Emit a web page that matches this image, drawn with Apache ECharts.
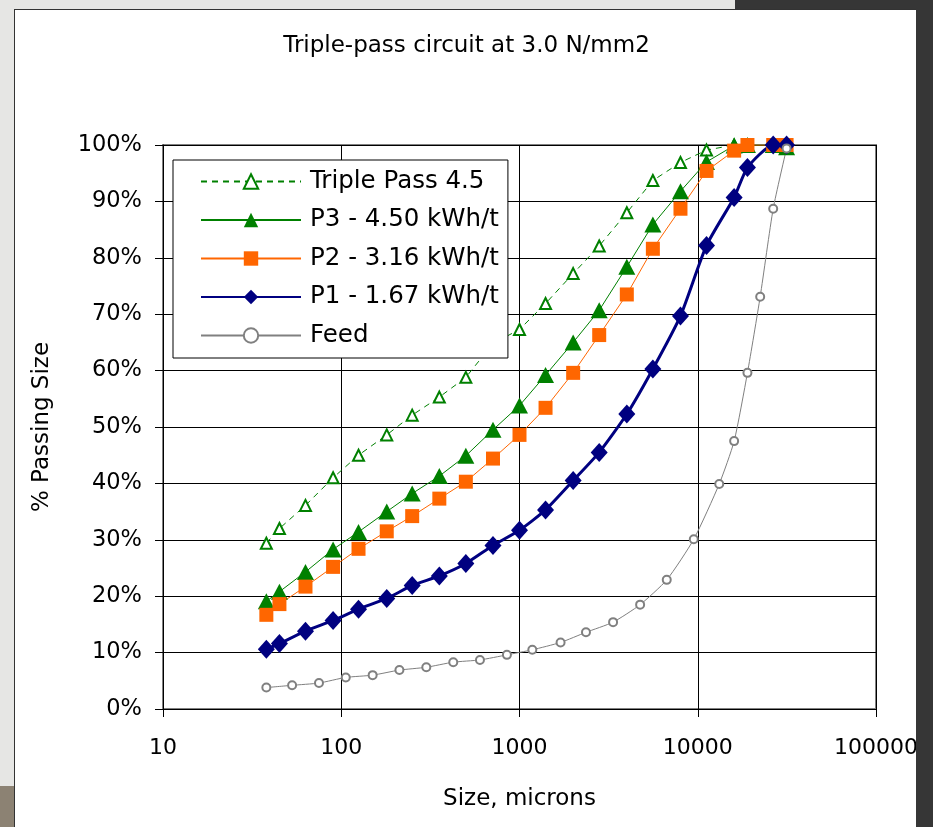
<!DOCTYPE html>
<html><head><meta charset="utf-8">
<script src="https://cdn.jsdelivr.net/npm/echarts@6/dist/echarts.min.js"></script>
<style>html,body{margin:0;padding:0;background:#ffffff;} #c{width:933px;height:827px;}</style>
</head><body><div id="c"></div>
<script>
// ---------- data ----------
const titleText = 'Triple-pass circuit at 3.0 N/mm2';
const xAxisTitle = 'Size, microns';
const yAxisTitle = '% Passing Size';
const seriesNames = ['Triple Pass 4.5', 'P3 - 4.50 kWh/t', 'P2 - 3.16 kWh/t', 'P1 - 1.67 kWh/t', 'Feed'];

const productSizes = [38, 45, 63, 90, 125, 180, 250, 355, 500, 710, 1000, 1400, 2000, 2800, 4000, 5600, 8000, 11200, 16000, 19000, 26500, 31500];
const tripleSizes = [38, 45, 63, 90, 125, 180, 250, 355, 500, 710, 1000, 1400, 2000, 2800, 4000, 5600, 8000, 11200, 16000];
const feedSizes = [38, 53, 75, 106, 150, 212, 300, 425, 600, 850, 1180, 1700, 2360, 3350, 4750, 6700, 9500, 13200, 16000, 19000, 22400, 26500, 31500];

const triplePass = [29.4, 32.0, 36.1, 41.0, 45.0, 48.6, 52.1, 55.3, 58.8, 64.8, 67.3, 71.9, 77.2, 82.1, 88.0, 93.7, 96.9, 99.1, 100];
const p3 = [19.1, 20.8, 24.3, 28.3, 31.4, 35.0, 38.2, 41.3, 44.9, 49.5, 53.8, 59.2, 65.0, 70.7, 78.4, 85.9, 91.8, 97.0, 99.9, 100, 100, 99.6];
const p2 = [16.7, 18.6, 21.7, 25.2, 28.4, 31.5, 34.2, 37.3, 40.3, 44.4, 48.6, 53.4, 59.6, 66.3, 73.5, 81.6, 88.7, 95.4, 99.0, 100, 100, 100];
const p1 = [10.6, 11.6, 13.8, 15.7, 17.7, 19.6, 21.9, 23.6, 25.8, 29.0, 31.7, 35.3, 40.5, 45.5, 52.3, 60.3, 69.7, 82.2, 90.7, 96.0, 100, 100];
const feed = [3.8, 4.2, 4.6, 5.6, 6.0, 6.9, 7.4, 8.3, 8.7, 9.6, 10.5, 11.8, 13.6, 15.4, 18.5, 22.9, 30.1, 39.9, 47.5, 59.6, 73.1, 88.7, 99.4];

const xTicks = [10, 100, 1000, 10000, 100000];
const yTicks = [0, 10, 20, 30, 40, 50, 60, 70, 80, 90, 100];

// ---------- chart ----------
const pairs = (xs, ys) => xs.map((x, i) => [x, ys[i]]);
const FONT = 'DejaVu Sans';
const chart = echarts.init(document.getElementById('c'), null, { renderer: 'canvas' });

chart.setOption({
  backgroundColor: '#ffffff',
  animation: false,
  textStyle: { fontFamily: FONT, color: '#000' },
  graphic: [
    { type: 'rect', z: 100, silent: true, shape: { x: 0, y: 0, width: 735, height: 9 }, style: { fill: '#e6e6e4' } },
    { type: 'rect', z: 100, silent: true, shape: { x: 735, y: 0, width: 198, height: 9 }, style: { fill: '#363636' } },
    { type: 'rect', z: 100, silent: true, shape: { x: 916, y: 0, width: 17, height: 827 }, style: { fill: '#363636' } },
    { type: 'rect', z: 100, silent: true, shape: { x: 0, y: 0, width: 14, height: 786 }, style: { fill: '#e6e6e4' } },
    { type: 'rect', z: 100, silent: true, shape: { x: 0, y: 786, width: 14, height: 41 }, style: { fill: '#8c8273' } },
    { type: 'line', z: 100, silent: true, shape: { x1: 14, y1: 9.5, x2: 916, y2: 9.5 }, style: { stroke: '#333', lineWidth: 1 } },
    { type: 'line', z: 100, silent: true, shape: { x1: 14.5, y1: 9, x2: 14.5, y2: 827 }, style: { stroke: '#333', lineWidth: 1 } }
  ],
  title: {
    text: titleText,
    left: 'center',
    top: 35,
    padding: 0,
    textStyle: { fontFamily: FONT, fontSize: 23, fontWeight: 'normal', color: '#000' }
  },
  legend: {
    orient: 'vertical',
    left: 173,
    top: 160,
    align: 'left',
    itemWidth: 100,
    itemHeight: 18,
    itemGap: 13.5,
    padding: [9, 9, 10, 27],
    backgroundColor: '#ffffff',
    borderColor: '#000',
    borderWidth: 1,
    borderRadius: 0,
    textStyle: { fontFamily: FONT, fontSize: 24.5, color: '#000', padding: [0, 0, 0, 4] },
    data: seriesNames
  },
  grid: {
    left: 163, right: 57, top: 145, bottom: 118,
    show: true,
    borderColor: '#808080',
    borderWidth: 2,
    backgroundColor: 'transparent',
    outerBoundsMode: 'none'
  },
  xAxis: {
    type: 'log',
    logBase: 10,
    min: xTicks[0],
    max: xTicks[xTicks.length - 1],
    name: xAxisTitle,
    nameLocation: 'middle',
    nameGap: 79,
    nameTextStyle: { fontFamily: FONT, fontSize: 23, color: '#000' },
    axisLine: { show: true, lineStyle: { color: '#000', width: 1 } },
    axisTick: { show: true, length: 8, inside: false, lineStyle: { color: '#000' } },
    minorTick: { show: false },
    splitLine: { show: true, lineStyle: { color: '#000', width: 1 } },
    axisLabel: {
      margin: 28,
      fontFamily: FONT, fontSize: 22, color: '#000',
      formatter: v => {
        const t = xTicks.find(t => Math.abs(t - v) < 1e-6 * t);
        return t === undefined ? '' : String(t);
      }
    }
  },
  yAxis: {
    type: 'value',
    min: yTicks[0],
    max: yTicks[yTicks.length - 1],
    interval: 10,
    name: yAxisTitle,
    nameLocation: 'middle',
    nameGap: 109,
    nameRotate: 90,
    nameTextStyle: { fontFamily: FONT, fontSize: 23, color: '#000' },
    axisLine: { show: true, lineStyle: { color: '#000', width: 1 } },
    axisTick: { show: true, length: 8, inside: false, lineStyle: { color: '#000' } },
    splitLine: { show: true, lineStyle: { color: '#000', width: 1 } },
    axisLabel: {
      margin: 21,
      fontFamily: FONT, fontSize: 22.5, color: '#000',
      formatter: v => (yTicks.includes(v) ? v + '%' : '')
    }
  },
  series: [
    {
      name: seriesNames[0], type: 'line',
      data: pairs(tripleSizes, triplePass),
      symbol: 'emptyTriangle', symbolSize: 11,
      lineStyle: { color: '#008000', width: 1, type: [6, 5] },
      itemStyle: { color: '#008000', borderColor: '#008000', borderWidth: 2 }
    },
    {
      name: seriesNames[1], type: 'line',
      data: pairs(productSizes, p3),
      symbol: 'triangle', symbolSize: [17, 16],
      lineStyle: { color: '#008000', width: 1 },
      itemStyle: { color: '#008000' }
    },
    {
      name: seriesNames[2], type: 'line',
      data: pairs(productSizes, p2),
      symbol: 'rect', symbolSize: 14,
      lineStyle: { color: '#ff6600', width: 1 },
      itemStyle: { color: '#ff6600' }
    },
    {
      name: seriesNames[3], type: 'line',
      data: pairs(productSizes, p1),
      symbol: 'diamond', symbolSize: [17, 19],
      smooth: 0.2,
      lineStyle: { color: '#000080', width: 3 },
      itemStyle: { color: '#000080' }
    },
    {
      name: seriesNames[4], type: 'line',
      data: pairs(feedSizes, feed),
      symbol: 'emptyCircle', symbolSize: 8,
      smooth: 0.2,
      lineStyle: { color: '#808080', width: 1 },
      itemStyle: { color: '#808080', borderColor: '#808080', borderWidth: 2 }
    }
  ]
});
</script>
</body></html>
